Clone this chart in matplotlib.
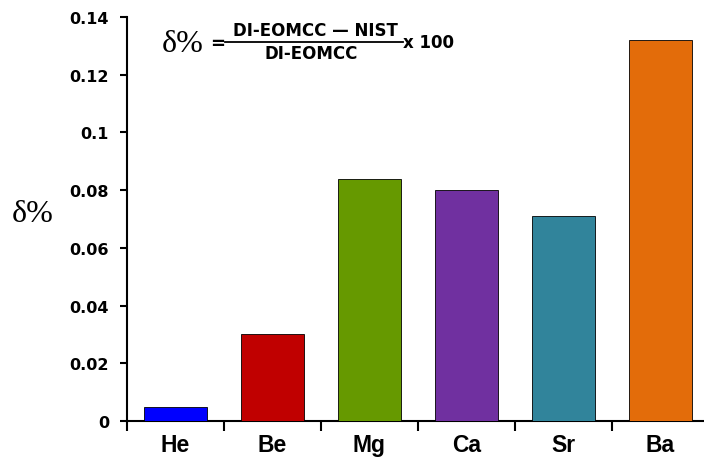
import matplotlib.pyplot as plt
import numpy as np

elements = ['He', 'Be', 'Mg', 'Ca', 'Sr', 'Ba']
delta_pct = [0.005, 0.030, 0.084, 0.080, 0.071, 0.132]
colors = ['#0000FF', '#C00000', '#669900', '#7030A0', '#31849B', '#E36C0A']
yticks = [0, 0.02, 0.04, 0.06, 0.08, 0.1, 0.12, 0.14]
ytick_labels = ['0', '0.02', '0.04', '0.06', '0.08', '0.1', '0.12', '0.14']

W, H = 704, 464
fig = plt.figure(figsize=(W / 100, H / 100), dpi=100)
plt.rcParams['font.family'] = ['Liberation Sans', 'DejaVu Sans']
serif = ['Liberation Serif', 'DejaVu Serif']
wide = ['DejaVu Sans']

# axes placed in pixel coordinates
x0, x1, y0, y1 = 127, 709, 422, 18
ax = fig.add_axes([x0 / W, 1 - y0 / H, (x1 - x0) / W, (y0 - y1) / H])

x = np.arange(len(elements))
ax.bar(x, delta_pct, width=0.65, color=colors, edgecolor='black', linewidth=0.6, zorder=3)

ax.set_xlim(-0.5, len(elements) - 0.5)
ax.set_ylim(0, 0.14)
ax.set_yticks(yticks)
ax.set_yticklabels(ytick_labels, fontsize=11.5, fontweight='bold', family=wide)
ax.set_xticks(np.arange(len(elements) + 1) - 0.5)
ax.set_xticklabels([])
ax.set_xticks(x, minor=True)
ax.set_xticklabels(elements, minor=True, fontsize=16.5, fontweight='bold')
ax.tick_params(axis='x', which='minor', length=0, pad=9)
ax.tick_params(axis='x', which='major', direction='out', length=7, width=1.5)
ax.tick_params(axis='y', direction='out', length=5, width=1.5, pad=8)

for s in ['top', 'right']:
    ax.spines[s].set_visible(False)
for s in ['left', 'bottom']:
    ax.spines[s].set_linewidth(1.5)

# y label
fig.text(33 / W, 1 - 215 / H, 'δ%', fontsize=23, family=serif, ha='center', va='center')

# formula
fig.text(162 / W, 1 - 44 / H, 'δ%', fontsize=23, family=serif, ha='left', va='center')
fig.text(218 / W, 1 - 44 / H, '=', fontsize=13, fontweight='bold', family=wide,
         ha='center', va='center')
fig.text(315 / W, 1 - 31 / H, 'DI-EOMCC — NIST', fontsize=12, fontweight='bold', family=wide,
         ha='center', va='center')
fig.text(311 / W, 1 - 54 / H, 'DI-EOMCC', fontsize=12, fontweight='bold', family=wide,
         ha='center', va='center')
fig.add_artist(plt.Line2D([225 / W, 403 / W], [1 - 43 / H, 1 - 43 / H], color='black', lw=1.3))
fig.text(403 / W, 1 - 43 / H, 'x 100', fontsize=12, fontweight='bold', family=wide,
         ha='left', va='center')

fig.savefig('out.png', dpi=100)
